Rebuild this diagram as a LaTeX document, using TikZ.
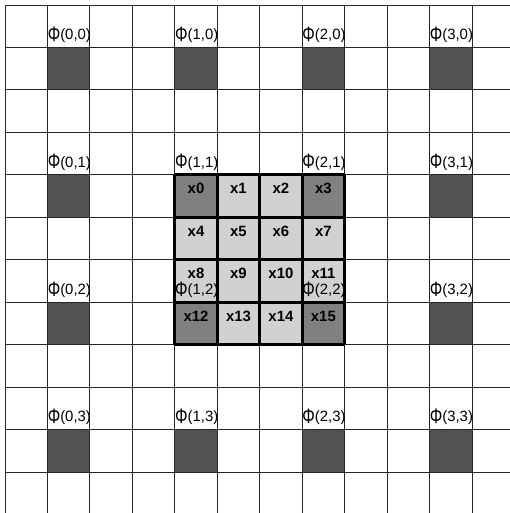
\documentclass[tikz,border=0pt]{standalone}
\usepackage{graphicx}
\usepackage{fontspec}
\setmainfont{Liberation Sans}
\usetikzlibrary{positioning}

\definecolor{darkcell}{gray}{0.32}
\definecolor{midcell}{gray}{0.50}
\definecolor{lightcell}{gray}{0.82}
\newcommand{\bigphi}{\raisebox{-0.2ex}{\scalebox{1.05}[1.4]{Φ}}}

\begin{document}
\begin{tikzpicture}[x=1cm,y=-1cm,
  gridline/.style={line width=0.6pt,black!85},
  blockline/.style={line width=2pt,black},
  philabel/.style={anchor=base west,inner sep=0pt,font=\fontsize{10}{12}\selectfont},
  xlabel/.style={anchor=base,inner sep=0pt,font=\fontsize{10}{12}\selectfont\bfseries}]
  \useasboundingbox[fill=white] (-0.118,-0.118) rectangle (11.896,11.967);
  % 控制点格子（深灰）
  \foreach \i in {0,...,3}
    \foreach \j in {0,...,3}
      \fill[darkcell] ({1+3*\i},{1+3*\j}) rectangle ++(1,1);
  % 中间 4x4 块
  \foreach \r in {0,...,3}
    \foreach \c in {0,...,3}
      \fill[lightcell] ({4+\c},{4+\r}) rectangle ++(1,1);
  \foreach \c/\r in {0/0,3/0,0/3,3/3}
    \fill[midcell] ({4+\c},{4+\r}) rectangle ++(1,1);
  % 网格线
  \foreach \k in {0,...,11} {
    \draw[gridline] (\k,0) -- (\k,11.967);
    \draw[gridline] (0,\k) -- (11.896,\k);
  }
  % 块边框
  \foreach \k in {0,...,4} {
    \draw[blockline] ({4+\k},4) -- ({4+\k},8);
    \draw[blockline] (4,{4+\k}) -- (8,{4+\k});
  }
  % 像素标注 x0..x15
  \foreach \r in {0,...,3}
    \foreach \c in {0,...,3} {
      \pgfmathtruncatemacro{\n}{4*\r+\c}
      \node[xlabel] (x-\n) at ({4.5+\c},{4.45+\r}) {x\n};
    }
  % 控制点标注
  \foreach \i in {0,...,3}
    \foreach \j in {0,...,3}
      \node[philabel] (phi-\i-\j) at ({1+3*\i},{0.82+3*\j}) {\bigphi(\i,\j)};
\end{tikzpicture}
\end{document}
